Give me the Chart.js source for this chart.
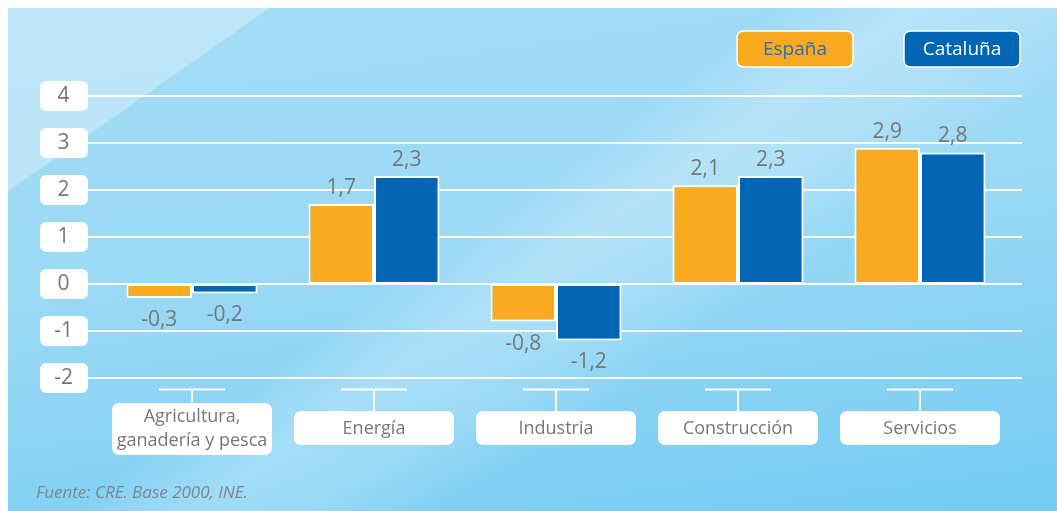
<!DOCTYPE html>
<html><head><meta charset="utf-8">
<script src="https://cdn.jsdelivr.net/npm/chart.js@4"></script>
<style>
html,body{margin:0;padding:0;background:#fff;overflow:hidden;}
#wrap{position:relative;width:1057px;height:511px;}
#bg{position:absolute;left:8px;top:8px;right:0;bottom:0;
background:
 linear-gradient(145deg, rgba(255,255,255,0.30) 0%, rgba(255,255,255,0.30) 14.7%, rgba(255,255,255,0) 14.9%),
 linear-gradient(145deg, rgba(255,255,255,0) 44%, rgba(255,255,255,0.25) 51%, rgba(255,255,255,0.18) 58%, rgba(255,255,255,0) 66%),
 linear-gradient(172deg, #a3dcf6 0%, #9bd9f5 45%, #74ccf3 100%);}
canvas{position:absolute;left:0;top:0;}
</style></head><body>
<div id="wrap"><div id="bg"></div><canvas id="c" width="1057" height="511"></canvas></div>
<script>
const categories = [['Agricultura,', 'ganadería y pesca'], 'Energía', 'Industria', 'Construcción', 'Servicios'];
const seriesNames = ['España', 'Cataluña'];
const espana = [-0.3, 1.7, -0.8, 2.1, 2.9];
const cataluna = [-0.2, 2.3, -1.2, 2.3, 2.8];
const yTicks = [4, 3, 2, 1, 0, -1, -2];
const sourceText = 'Fuente: CRE. Base 2000, INE.';

const FONT = "'Open Sans', 'Noto Sans', sans-serif";
const GREY = '#777777';
const ORANGE = '#F9AA1E';
const BLUE = '#0066B3';

function rr(ctx, x, y, w, h, r) {
  ctx.beginPath();
  ctx.moveTo(x + r, y);
  ctx.lineTo(x + w - r, y);
  ctx.quadraticCurveTo(x + w, y, x + w, y + r);
  ctx.lineTo(x + w, y + h - r);
  ctx.quadraticCurveTo(x + w, y + h, x + w - r, y + h);
  ctx.lineTo(x + r, y + h);
  ctx.quadraticCurveTo(x, y + h, x, y + h - r);
  ctx.lineTo(x, y + r);
  ctx.quadraticCurveTo(x, y, x + r, y);
  ctx.closePath();
}

const decor = {
  id: 'decor',
  beforeDraw(chart) {
    const ctx = chart.ctx, ys = chart.scales.y, xs = chart.scales.x, ca = chart.chartArea;
    ctx.save();
    ctx.fillStyle = '#ffffff';
    yTicks.forEach(v => {
      const y = ys.getPixelForValue(v);
      rr(ctx, 40, y - 15, 48, 30, 7); ctx.fill();
    });
    ctx.strokeStyle = 'rgba(255,255,255,0.95)';
    ctx.lineWidth = 2;
    yTicks.forEach(v => {
      const y = Math.round(ys.getPixelForValue(v));
      ctx.beginPath(); ctx.moveTo(88, y); ctx.lineTo(1022, y); ctx.stroke();
    });
    categories.forEach((c, i) => {
      const cx = xs.getPixelForTick(i);
      const two = Array.isArray(c);
      const top = two ? ca.bottom + 25 : ca.bottom + 33;
      const h = two ? 52 : 34;
      const ty = ca.bottom + 11.5;
      ctx.strokeStyle = '#ffffff'; ctx.lineWidth = 2;
      ctx.beginPath(); ctx.moveTo(cx - 33, ty); ctx.lineTo(cx + 33, ty); ctx.stroke();
      ctx.beginPath(); ctx.moveTo(cx, ty); ctx.lineTo(cx, top); ctx.stroke();
      ctx.fillStyle = '#ffffff';
      rr(ctx, cx - 80, top, 160, h, 8); ctx.fill();
    });
    const leg = [{x: 737, fill: ORANGE, text: '#2b6db0'}, {x: 904, fill: BLUE, text: '#ffffff'}];
    chart.data.datasets.forEach((ds, i) => {
      const L = leg[i];
      rr(ctx, L.x, 31, 116, 36, 7);
      ctx.fillStyle = L.fill; ctx.fill();
      ctx.strokeStyle = '#ffffff'; ctx.lineWidth = 1.5; ctx.stroke();
      ctx.fillStyle = L.text;
      ctx.font = '500 19px ' + FONT;
      ctx.textAlign = 'center'; ctx.textBaseline = 'middle';
      ctx.fillText(ds.label, L.x + 58, 50);
    });
    ctx.fillStyle = '#7c8894';
    ctx.font = 'italic 17px ' + FONT;
    ctx.textAlign = 'left'; ctx.textBaseline = 'alphabetic';
    ctx.fillText(sourceText, 36, 498);
    ctx.restore();
  },
  afterDatasetsDraw(chart) {
    const ctx = chart.ctx;
    ctx.save();
    ctx.font = '21px ' + FONT;
    ctx.fillStyle = GREY;
    ctx.textAlign = 'center'; ctx.textBaseline = 'middle';
    chart.data.datasets.forEach((ds, di) => {
      const meta = chart.getDatasetMeta(di);
      meta.data.forEach((el, i) => {
        const v = ds.data[i];
        const txt = v.toFixed(1).replace('.', ',');
        const y = v >= 0 ? el.y - 16 : el.y + 22;
        ctx.fillText(txt, el.x, y);
      });
    });
    ctx.restore();
  }
};

new Chart(document.getElementById('c'), {
  type: 'bar',
  data: {
    labels: categories,
    datasets: [
      {label: seriesNames[0], data: espana, backgroundColor: ORANGE, borderColor: '#ffffff', borderWidth: 2, borderSkipped: false},
      {label: seriesNames[1], data: cataluna, backgroundColor: BLUE, borderColor: '#ffffff', borderWidth: 2, borderSkipped: false}
    ]
  },
  options: {
    responsive: false,
    animation: false,
    events: [],
    layout: {padding: {left: 40, right: 46, top: 96, bottom: 33}},
    categoryPercentage: 0.72,
    barPercentage: 1.0,
    plugins: {legend: {display: false}, tooltip: {enabled: false}, title: {display: false}},
    scales: {
      x: {
        grid: {display: false, drawTicks: false},
        border: {display: false},
        ticks: {font: {family: FONT, size: 18, lineHeight: 1.35}, color: GREY, padding: 39, crossAlign: 'center', maxRotation: 0, autoSkip: false},
        afterFit(s) { s.height = 100; }
      },
      y: {
        min: -2, max: 4,
        grid: {display: false, drawTicks: false},
        border: {display: false},
        ticks: {stepSize: 1, font: {family: FONT, size: 21}, color: GREY, padding: 28, crossAlign: 'center',
          callback: v => String(v)},
        afterFit(s) { s.width = 61; }
      }
    }
  },
  plugins: [decor]
});
</script>
</body></html>
